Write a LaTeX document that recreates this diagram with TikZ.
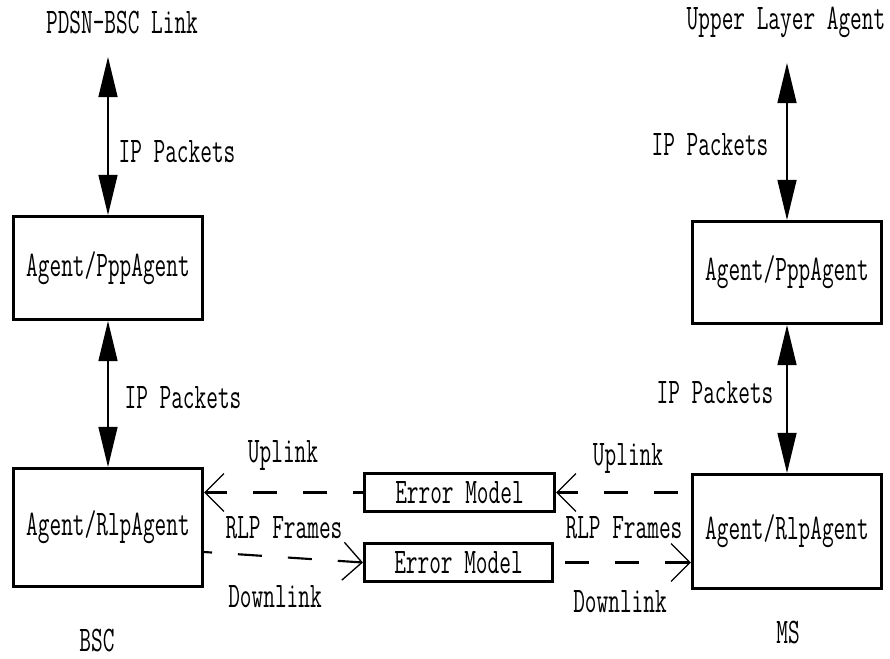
\documentclass[tikz,border=0pt]{standalone}
\usepackage{fontspec}
\usetikzlibrary{arrows.meta,calc}
\newfontfamily\labelfont[FakeStretch=0.63]{Latin Modern Mono}
\begin{document}
\begin{tikzpicture}[x=0.75pt,y=-0.75pt,
  every node/.style={font=\labelfont\fontsize{27}{30}\selectfont, inner sep=0pt},
  agentbox/.style={draw, line width=2.3pt, minimum width=141.75pt},
  errbox/.style={draw, line width=2.3pt, minimum height=28.5pt},
  biarrow/.style={line width=1pt, {Triangle[length=30pt,width=14.25pt]}-{Triangle[length=30pt,width=14.25pt]}},
  dasharrow/.style={line width=1.6pt, dash pattern=on 18pt off 19.5pt,
    -{Straight Barb[length=14.25pt,width=28.5pt,line width=1pt]}},
  txt/.style={anchor=center}]
\useasboundingbox (0,0) rectangle (890,658);

% BSC side
\node[agentbox, minimum height=77.25pt] (lppp) at (108,268) {Agent/PppAgent};
\node[agentbox, minimum height=88.5pt] (lrlp) at (108,527.5) {Agent/RlpAgent};
% MS side
\node[agentbox, minimum height=76.5pt] (rppp) at (787,272.5) {Agent/PppAgent};
\node[agentbox, minimum height=85.5pt] (rrlp) at (787,531.5) {Agent/RlpAgent};
% error models on the radio link
\node[errbox, minimum width=142.5pt] (eup) at (459.5,492.5) {Error Model};
\node[errbox, minimum width=141pt] (elow) at (458.5,562.5) {Error Model};

% free ends and captions
\coordinate (ltop) at (108,57);
\coordinate (rtop) at (787,63);
\node[txt] (pdsn) at (122,22) {PDSN-BSC Link};
\node[txt] (upper) at (786,22) {Upper Layer Agent};
\node[txt] (bsc) at (97,640) {BSC};
\node[txt] (ms) at (788,632) {MS};

% IP packet flows
\draw[biarrow] (ltop) -- (lppp.north);
\draw[biarrow] (lppp.south) -- (lrlp.north);
\draw[biarrow] (rtop) -- (rppp.north);
\draw[biarrow] (rppp.south) -- (rrlp.north);
\node[txt] (ip1) at (177,152) {IP Packets};
\node[txt] (ip2) at (183,398) {IP Packets};
\node[txt] (ip3) at (710,145) {IP Packets};
\node[txt] (ip4) at (715,393) {IP Packets};

% RLP frames, uplink and downlink
\draw[dasharrow, dash phase=27.75pt] (rrlp.west |- eup.east) -- (eup.east);
\draw[dasharrow, dash phase=10.5pt] (eup.west) -- (lrlp.east |- eup.west);
\draw[dasharrow, dash phase=12pt] ($(lrlp.east)+(0,24.5)$) -- (elow.west);
\draw[dasharrow, dash phase=29.25pt] (elow.east) -- (rrlp.west |- elow.east);

\node[txt] (ul1) at (283,455) {Uplink};
\node[txt] (rf1) at (284,528) {RLP Frames};
\node[txt] (dl1) at (275,597) {Downlink};
\node[txt] (ul2) at (628,458) {Uplink};
\node[txt] (rf2) at (624,528) {RLP Frames};
\node[txt] (dl2) at (620,602) {Downlink};
\end{tikzpicture}
\end{document}
